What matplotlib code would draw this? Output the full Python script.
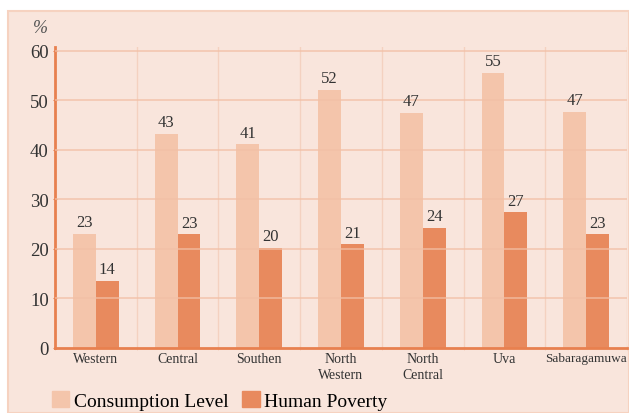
import matplotlib
matplotlib.use("Agg")
import matplotlib.pyplot as plt
import numpy as np
from matplotlib.patches import Rectangle, Patch

plt.rcParams['font.family'] = ['Liberation Serif', 'DejaVu Serif']

regions = ['Western', 'Central', 'Southen', 'North\nWestern', 'North\nCentral', 'Uva', 'Sabaragamuwa']
consumption = [23.1, 43.3, 41.2, 52.2, 47.5, 55.6, 47.7]
poverty = [13.6, 23.0, 20.3, 21.0, 24.3, 27.4, 23.0]
consumption_labels = ['23', '43', '41', '52', '47', '55', '47']
poverty_labels = ['14', '23', '20', '21', '24', '27', '23']

c_light = '#f4c5ab'
c_dark = '#e88a5e'
axis_col = '#e8804f'
grid_col = '#f2bfa5'

fig = plt.figure(figsize=(6.29, 4.14), dpi=100)
fig.patch.set_facecolor('white')
fig.patches.append(Rectangle((8 / 629, 0), 621 / 629, 1 - 12 / 414, transform=fig.transFigure,
                             facecolor='#f9e5dc', edgecolor='#f6d2c0', lw=1.5, zorder=-1))

ax = fig.add_axes([55 / 629, 1 - 349 / 414, 572 / 629, 301 / 414])
ax.set_facecolor('none')

x = np.arange(len(regions))
w = 0.28
b1 = ax.bar(x - w / 2, consumption, w, color=c_light, zorder=2)
b2 = ax.bar(x + w / 2, poverty, w, color=c_dark, zorder=2)

for rect, v, lab in zip(b1, consumption, consumption_labels):
    ax.text(rect.get_x() + rect.get_width() / 2, v + 0.7, lab, ha='center', va='bottom',
            fontsize=12, color='#333333', zorder=4)
for rect, v, lab in zip(b2, poverty, poverty_labels):
    ax.text(rect.get_x() + rect.get_width() / 2, v + 0.7, lab, ha='center', va='bottom',
            fontsize=12, color='#333333', zorder=4)

ax.set_xlim(-0.5, len(regions) - 0.5)
ax.set_ylim(0, 60.8)
ax.set_yticks(range(0, 61, 10))
ax.set_xticks(x)
ax.set_xticklabels(regions, fontsize=10, color='#333333', linespacing=1.25)
ax.get_xticklabels()[-1].set_fontsize(9.5)
ax.set_xticks(np.arange(-0.5, len(regions)), minor=True)

for yv in range(10, 61, 10):
    ax.axhline(yv, color=grid_col, lw=1.2, alpha=0.8, zorder=3)
for xv in np.arange(0.5, len(regions)):
    ax.axvline(xv, color='#f3cdb9', lw=1.0, alpha=0.8, zorder=1)

for s in ['top', 'right']:
    ax.spines[s].set_visible(False)
ax.spines['left'].set_color(axis_col)
ax.spines['left'].set_linewidth(2)
ax.spines['bottom'].set_color(axis_col)
ax.spines['bottom'].set_linewidth(2)
ax.spines['bottom'].set_zorder(5)

ax.tick_params(axis='y', labelsize=13.5, colors=axis_col, labelcolor='#333333', length=3, direction='inout', pad=3)
ax.tick_params(axis='x', which='major', length=0, pad=3)
ax.tick_params(axis='x', which='minor', length=3, color='#f3cdb9', direction='inout')

ax.text(-0.012, 1.035, '%', transform=ax.transAxes, fontsize=13, style='italic', color='#555555',
        ha='right', va='bottom')

handles = [Patch(color=c_light, label='Consumption Level'), Patch(color=c_dark, label='Human Poverty')]
fig.legend(handles=handles, loc='lower left', bbox_to_anchor=(34 / 629, -0.035), ncol=2, frameon=False,
           fontsize=14, handlelength=0.9, handleheight=0.9, handletextpad=0.25, columnspacing=0.7)

fig.savefig('out.png', dpi=100)
